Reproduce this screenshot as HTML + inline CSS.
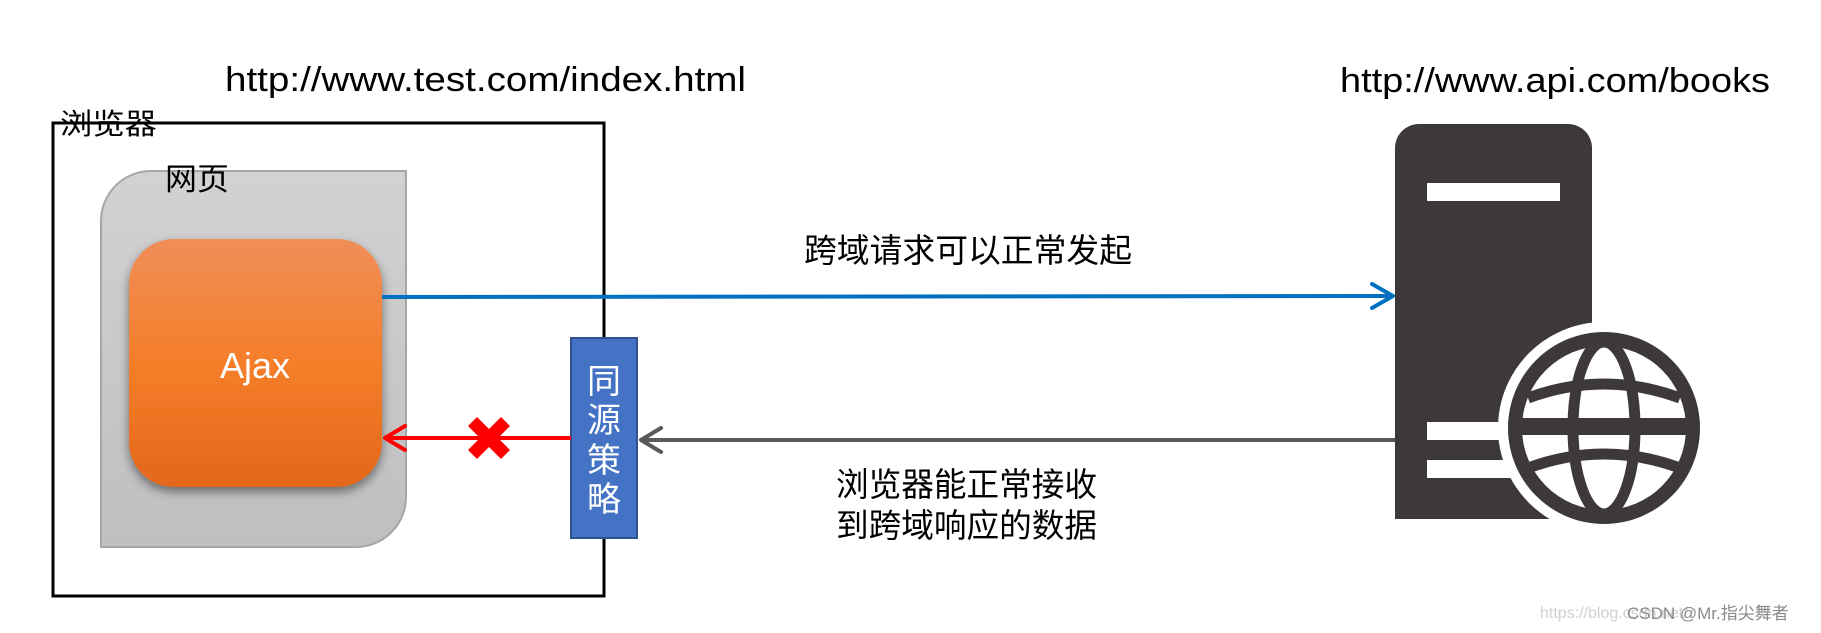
<!DOCTYPE html>
<html><head><meta charset="utf-8"><style>
html,body{margin:0;padding:0;background:#fff;}
svg{display:block;}
text{font-family:"Liberation Sans","Noto Sans CJK SC",sans-serif;}
</style></head><body>
<svg width="1821" height="633" viewBox="0 0 1821 633" xmlns="http://www.w3.org/2000/svg">
<defs>
<linearGradient id="gg" x1="0" y1="0" x2="0" y2="1"><stop offset="0" stop-color="#d2d2d2"/><stop offset="1" stop-color="#bfbfbf"/></linearGradient>
<linearGradient id="og" x1="0" y1="0" x2="0" y2="1"><stop offset="0" stop-color="#f08e58"/><stop offset="0.5" stop-color="#f57e2a"/><stop offset="1" stop-color="#e4671a"/></linearGradient>
<filter id="sh" x="-20%" y="-20%" width="140%" height="140%"><feDropShadow dx="0" dy="5" stdDeviation="5" flood-color="#000" flood-opacity="0.45"/></filter>
</defs>

<text x="225" y="91" font-size="34" fill="#000" textLength="521" lengthAdjust="spacingAndGlyphs">http://www.test.com/index.html</text>
<text x="1340" y="92" font-size="34" fill="#000" textLength="430" lengthAdjust="spacingAndGlyphs">http://www.api.com/books</text>

<rect x="53" y="123" width="551" height="473" fill="none" stroke="#000" stroke-width="3"/>
<text x="60" y="134" font-size="29" fill="#000" textLength="97" lengthAdjust="spacingAndGlyphs">浏览器</text>

<path d="M151,171 H406 V497 A50,50 0 0 1 356,547 H101 V221 A50,50 0 0 1 151,171 Z" fill="url(#gg)" stroke="#a6a6a6" stroke-width="2"/>
<text x="165" y="190" font-size="31" fill="#000" textLength="64" lengthAdjust="spacingAndGlyphs">网页</text>

<rect x="129" y="239" width="253" height="248" rx="45" ry="45" fill="url(#og)" filter="url(#sh)"/>
<text x="255" y="378" font-size="36" fill="#fff" text-anchor="middle">Ajax</text>

<line x1="382" y1="297" x2="1393" y2="296" stroke="#0070c0" stroke-width="4"/>
<polyline points="1372,284 1393,296 1372,308" fill="none" stroke="#0070c0" stroke-width="4" stroke-linecap="round" stroke-linejoin="round"/>
<text x="804" y="262" font-size="33" fill="#000" textLength="328" lengthAdjust="spacingAndGlyphs">跨域请求可以正常发起</text>

<rect x="571" y="338" width="66" height="200" fill="#4472c4" stroke="#2f528f" stroke-width="2"/>
<g font-size="34" fill="#fff" text-anchor="middle">
<text x="604" y="393">同</text>
<text x="604" y="432">源</text>
<text x="604" y="472">策</text>
<text x="604" y="511">略</text>
</g>

<line x1="385" y1="438" x2="571" y2="438" stroke="#ff0000" stroke-width="4"/>
<polyline points="405,426 385,438 405,450" fill="none" stroke="#ff0000" stroke-width="4" stroke-linecap="round" stroke-linejoin="round"/>
<g transform="translate(489,438)">
<path d="M-21,-12 L-12,-21 L0,-9 L12,-21 L21,-12 L9,0 L21,12 L12,21 L0,9 L-12,21 L-21,12 L-9,0 Z" fill="#ff0000"/>
</g>

<line x1="641" y1="440" x2="1395" y2="440" stroke="#595959" stroke-width="4"/>
<polyline points="661,428 641,440 661,452" fill="none" stroke="#595959" stroke-width="4" stroke-linecap="round" stroke-linejoin="round"/>
<text x="836" y="496" font-size="33" fill="#000" textLength="261" lengthAdjust="spacingAndGlyphs">浏览器能正常接收</text>
<text x="836" y="537" font-size="33" fill="#000" textLength="261" lengthAdjust="spacingAndGlyphs">到跨域响应的数据</text>

<path d="M1395,519 V148 A24,24 0 0 1 1419,124 H1568 A24,24 0 0 1 1592,148 V519 Z" fill="#3e3939"/>
<rect x="1427" y="183" width="133" height="18" fill="#fff"/>
<rect x="1427" y="422" width="120" height="18" fill="#fff"/>
<rect x="1427" y="460" width="120" height="18" fill="#fff"/>
<circle cx="1604" cy="428" r="106" fill="#fff"/>
<circle cx="1604" cy="428" r="96" fill="#3e3939"/>
<circle cx="1604" cy="428" r="82" fill="#fff"/>
<g fill="none" stroke="#3e3939" stroke-width="11">
<ellipse cx="1604" cy="428" rx="31" ry="86"/>
<path d="M1528,398 Q1604,370 1680,398"/>
<path d="M1528,468 Q1604,440 1680,468"/>
</g>
<rect x="1516" y="418" width="176" height="17" fill="#3e3939"/>

<text x="1540" y="618" font-size="16" fill="#d0d0d0">https://blog.csdn.net/</text>
<text x="1627" y="619" font-size="17" fill="#8a8a8a">CSDN @Mr.指尖舞者</text>
</svg>
</body></html>
